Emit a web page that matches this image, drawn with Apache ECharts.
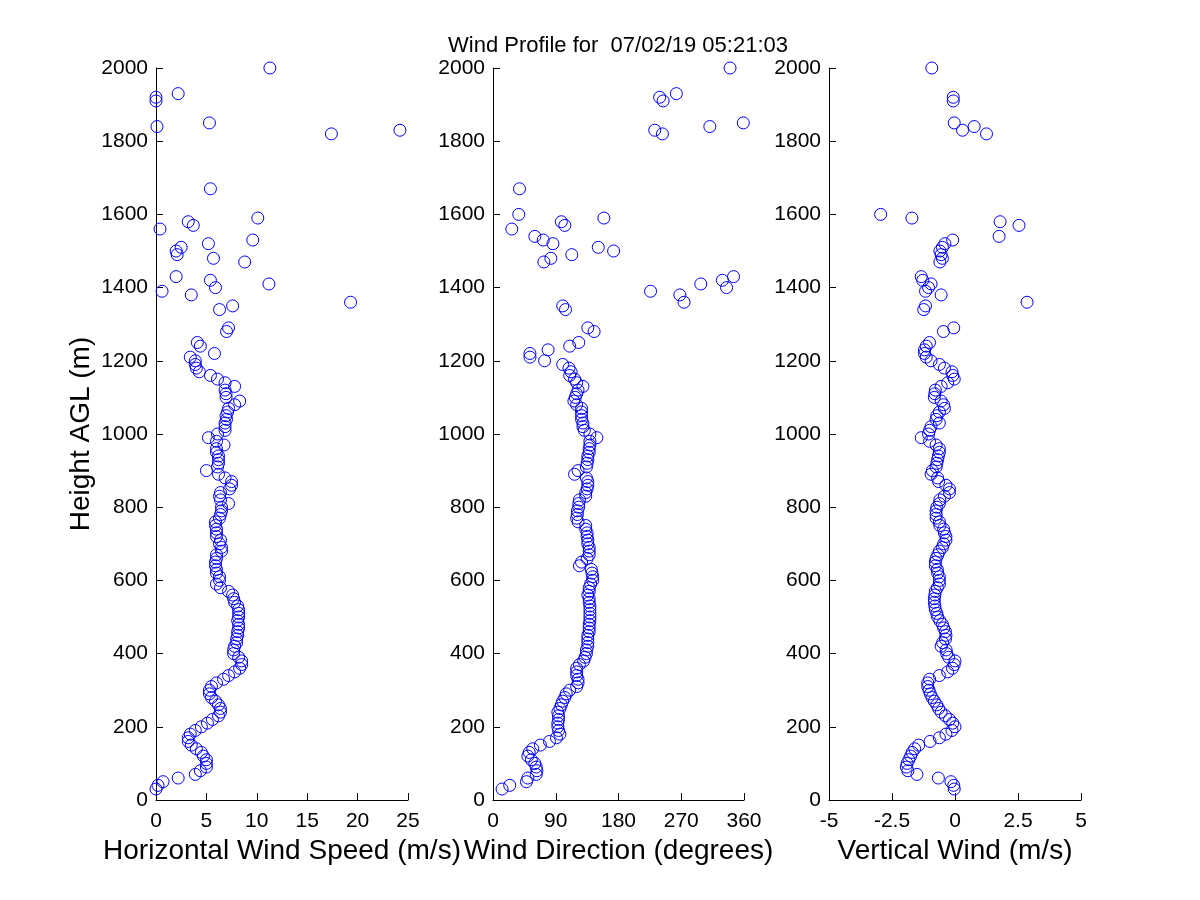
<!DOCTYPE html>
<html>
<head>
<meta charset="utf-8">
<script src="https://cdn.jsdelivr.net/npm/echarts@6/dist/echarts.min.js"></script>
<style>
html,body{margin:0;padding:0;background:#fff;}
#chart{width:1200px;height:900px;}
</style>
</head>
<body>
<div id="chart"></div>
<script>
// Heights AGL (m)
var heights = [
  30,40,50,60,70,80,90,100,110,120,
  130,140,150,160,170,180,190,200,210,220,
  230,240,250,260,270,280,290,300,310,320,
  330,340,350,360,370,380,390,400,410,420,
  430,440,450,460,470,480,490,500,510,520,
  530,540,550,560,570,580,590,600,610,620,
  630,640,650,660,670,680,690,700,710,720,
  730,740,750,760,770,780,790,800,810,820,
  830,840,850,860,870,880,890,900,910,920,
  930,940,950,960,970,980,990,1000,1010,1020,
  1030,1040,1050,1060,1070,1080,1090,1100,1110,1120,
  1130,1140,1150,1160,1170,1180,1190,1200,1210,1220,
  1230,1240,1250,1260,1270,1280,1290,
  1340,1350,1360,1380,1390,1400,1410,1420,1430,1470,
  1480,1490,1500,1510,1520,1530,1540,1560,1570,1580,
  1590,1600,1670,1820,1830,1840,1850,1910,1920,1930,2000
];
// Horizontal wind speed (m/s)
var speed = [
  0.0,0.2,0.7,2.2,3.9,4.4,5.0,5.0,5.0,4.7,
  4.5,4.0,3.5,3.2,3.2,3.4,3.9,4.5,5.1,5.6,
  6.2,6.4,6.4,6.2,5.9,5.5,5.3,5.3,5.5,6.0,
  6.7,7.2,7.8,8.3,8.5,8.5,8.2,7.7,7.7,7.8,
  8.0,8.0,8.1,8.1,8.2,8.2,8.1,8.2,8.2,8.2,
  8.1,7.8,7.7,7.6,7.2,6.4,6.0,6.3,6.3,6.0,
  6.0,5.9,5.9,6.0,6.0,6.5,6.5,6.3,6.4,6.0,
  6.0,6.0,5.9,5.9,6.3,6.4,6.5,6.5,7.2,6.4,
  6.3,6.4,7.3,7.5,7.5,6.85,6.2,5.0,6.1,6.2,
  6.2,6.2,6.0,6.0,6.75,6.0,5.2,6.1,6.85,6.85,
  6.85,7.0,6.95,7.1,7.2,7.8,8.3,6.95,6.95,6.85,
  7.8,6.85,6.1,5.4,4.3,4.0,3.9,3.9,3.4,5.8,
  null,4.4,4.1,null,null,7.0,7.2,
  6.3,7.6,19.3,3.5,0.6,5.9,11.2,5.4,2.0,8.8,
  5.7,2.1,2.0,2.5,5.2,9.6,null,0.4,3.7,3.2,
  10.1,null,5.4,17.4,24.2,0.1,5.3,0.0,0.0,2.2,11.3
];
// Wind direction (degrees)
var direction = [
  13,24,48,50,62,63,62,60,55,50,
  52,57,68,81,91,96,94,93,93,94,
  94,93,96,98,100,103,105,110,120,122,
  122,120,120,120,124,130,132,134,134,136,
  136,136,136,138,138,138,139,139,139,139,
  139,138,138,136,138,138,140,143,143,142,
  141,124,127,135,138,138,138,136,136,135,
  135,133,133,122,120,121,121,123,123,124,
  133,133,135,136,136,134,117,122,134,135,
  136,136,138,138,139,139,149,139,131,129,
  129,127,127,127,127,120,116,118,120,122,
  129,120,117,110,112,109,100,74,53,53,
  79,110,123,null,null,145,136,
  104,100,274,268,226,335,298,329,345,73,
  83,113,173,151,86,72,60,27,103,98,
  159,37,38,243,232,311,359,244,239,263,340
];
// Vertical wind (m/s)
var vertical = [
  -0.03,-0.05,-0.16,-0.66,-1.51,-1.87,-1.93,-1.9,-1.83,-1.76,
  -1.7,-1.6,-1.44,-0.99,-0.62,-0.36,-0.12,0.0,-0.09,-0.22,
  -0.38,-0.55,-0.65,-0.72,-0.82,-0.91,-0.98,-1.03,-1.08,-1.08,
  -1.01,-0.62,-0.29,-0.1,-0.03,0.0,-0.25,-0.33,-0.35,-0.55,
  -0.49,-0.38,-0.36,-0.38,-0.45,-0.5,-0.6,-0.69,-0.72,-0.78,
  -0.8,-0.82,-0.82,-0.8,-0.78,-0.7,-0.62,-0.62,-0.62,-0.69,
  -0.7,-0.78,-0.78,-0.75,-0.68,-0.62,-0.5,-0.45,-0.36,-0.36,
  -0.42,-0.45,-0.6,-0.62,-0.75,-0.75,-0.75,-0.72,-0.62,-0.6,
  -0.42,-0.22,-0.22,-0.36,-0.65,-0.69,-0.95,-0.9,-0.75,-0.72,
  -0.69,-0.66,-0.62,-0.62,-0.75,-1.01,-1.34,-1.05,-1.01,-0.95,
  -0.62,-0.75,-0.72,-0.62,-0.42,-0.45,-0.55,-0.82,-0.8,-0.78,
  -0.55,-0.29,-0.03,-0.09,-0.12,-0.42,-0.62,-0.95,-1.14,-1.21,
  -1.21,-1.14,-1.01,null,null,-0.46,-0.05,
  -1.24,-1.17,2.86,-0.55,-1.17,-1.05,-0.95,-1.28,-1.34,-0.6,
  -0.5,-0.55,-0.6,-0.5,-0.4,-0.09,1.75,null,2.54,1.79,
  -1.71,-2.95,null,1.25,0.3,0.76,-0.03,-0.07,-0.07,null,-0.92
];

var titleText = 'Wind Profile for  07/02/19 05:21:03';
var xNames = ['Horizontal Wind Speed (m/s)', 'Wind Direction (degrees)', 'Vertical Wind (m/s)'];
var yName = 'Height AGL (m)';

function pairs(vals) {
  var out = [];
  for (var i = 0; i < heights.length; i++) {
    if (vals[i] !== null && vals[i] !== undefined) out.push([vals[i], heights[i]]);
  }
  return out;
}

var FONT = '"Liberation Sans", Arial, Helvetica, sans-serif';
function plain(v) { return String(v); }
function ax(extra) {
  var base = {
    type: 'value',
    axisLine: { show: true, onZero: false, lineStyle: { color: '#000', width: 1 } },
    axisTick: { show: true, inside: true, length: 7, lineStyle: { color: '#000', width: 1 } },
    splitLine: { show: false },
    axisLabel: { color: '#000', fontSize: 21, fontFamily: FONT, margin: 8, showMinLabel: true, showMaxLabel: true, formatter: plain },
    nameTextStyle: { color: '#000', fontSize: 28, fontFamily: FONT }
  };
  return Object.assign(base, extra);
}

var xRanges = [
  { min: 0, max: 25, interval: 5 },
  { min: 0, max: 360, interval: 90 },
  { min: -5, max: 5, interval: 2.5 }
];
var grids = [
  { left: 156, top: 68, width: 252, height: 732 },
  { left: 493, top: 68, width: 251, height: 732 },
  { left: 829, top: 68, width: 252, height: 732 }
];
var xAxes = [], yAxes = [], series = [];
var valueSets = [speed, direction, vertical];
for (var g = 0; g < 3; g++) {
  var xa = ax({
    gridIndex: g, min: xRanges[g].min, max: xRanges[g].max, interval: xRanges[g].interval,
    name: xNames[g], nameLocation: 'middle', nameGap: 36
  });
  xa.axisLabel.margin = 11;
  xAxes.push(xa);
  var y = ax({ gridIndex: g, min: 0, max: 2000, interval: 200 });
  if (g === 0) { y.name = yName; y.nameLocation = 'middle'; y.nameGap = 61; }
  yAxes.push(y);
  series.push({
    type: 'scatter', xAxisIndex: g, yAxisIndex: g,
    symbol: 'circle', symbolSize: 12, clip: false, silent: true,
    itemStyle: { color: 'rgba(0,0,0,0)', borderColor: '#0000ff', borderWidth: 1, opacity: 1 },
    data: pairs(valueSets[g])
  });
}

var chart = echarts.init(document.getElementById('chart'), null, { renderer: 'canvas' });
chart.setOption({
  backgroundColor: '#ffffff',
  animation: false,
  title: {
    text: titleText, left: 443, top: 30,
    textStyle: { color: '#000', fontSize: 22, fontWeight: 'normal', fontFamily: FONT }
  },
  grid: grids,
  xAxis: xAxes,
  yAxis: yAxes,
  series: series
});
</script>
</body>
</html>
